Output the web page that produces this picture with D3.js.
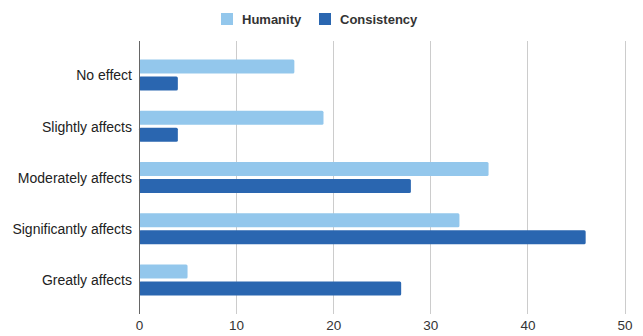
<!DOCTYPE html>
<html>
<head>
<meta charset="utf-8">
<script src="https://cdn.jsdelivr.net/npm/d3@7"></script>
<style>
  body { margin: 0; background: #fff; }
  svg { display: block; font-family: "Liberation Sans", Arial, sans-serif; }
</style>
</head>
<body>
<svg id="chart" width="643" height="336"></svg>
<script>
const categories = ['No effect', 'Slightly affects', 'Moderately affects', 'Significantly affects', 'Greatly affects'];
const seriesNames = ['Humanity', 'Consistency'];
const humanity = [16, 19, 36, 33, 5];
const consistency = [4, 4, 28, 46, 27];
const xTicks = [0, 10, 20, 30, 40, 50];
const colors = ['#93c7ec', '#2a66b0'];

const svg = d3.select('#chart');
const plotLeft = 139, plotRight = 624.5, plotTop = 41, plotBottom = 314;

const x = d3.scaleLinear().domain([0, 50]).range([plotLeft, plotRight]);
const y = d3.scaleBand().domain(categories).range([plotTop, plotBottom])
  .paddingInner(0.395).paddingOuter(0.361);
const ySub = d3.scaleBand().domain(seriesNames).range([0, y.bandwidth()])
  .paddingInner(0.176);

// gridlines
svg.append('g')
  .selectAll('line')
  .data(xTicks.filter(d => d > 0))
  .join('line')
  .attr('x1', d => Math.round(x(d)) + 0.5)
  .attr('x2', d => Math.round(x(d)) + 0.5)
  .attr('y1', plotTop)
  .attr('y2', plotBottom)
  .attr('stroke', '#cccccc')
  .attr('stroke-width', 1);

// bars
const rows = categories.map((c, i) => ({ cat: c, values: [humanity[i], consistency[i]] }));
const groups = svg.append('g')
  .selectAll('g')
  .data(rows)
  .join('g')
  .attr('transform', d => `translate(0,${y(d.cat)})`);

groups.selectAll('rect')
  .data(d => d.values.map((v, j) => ({ name: seriesNames[j], v, j })))
  .join('rect')
  .attr('x', x(0))
  .attr('y', d => ySub(d.name))
  .attr('width', d => x(d.v) - x(0))
  .attr('height', ySub.bandwidth())
  .attr('rx', 1.5)
  .attr('fill', d => colors[d.j]);

// y axis line
svg.append('line')
  .attr('x1', plotLeft + 0.5).attr('x2', plotLeft + 0.5)
  .attr('y1', plotTop).attr('y2', plotBottom)
  .attr('stroke', '#666666')
  .attr('stroke-width', 1);

// x tick labels
const axisX = d3.axisBottom(x).tickValues(xTicks).tickSize(0).tickPadding(0);
const gx = svg.append('g')
  .attr('transform', `translate(0,${plotBottom + 6})`)
  .call(axisX);
gx.select('.domain').remove();
gx.selectAll('text')
  .attr('font-size', 13.5)
  .attr('font-family', '"Liberation Sans", Arial, sans-serif')
  .attr('fill', '#333333');

// y category labels
const axisY = d3.axisLeft(y).tickSize(0).tickPadding(7);
const gy = svg.append('g')
  .attr('transform', `translate(${plotLeft},1)`)
  .call(axisY);
gy.select('.domain').remove();
gy.selectAll('text')
  .attr('font-size', 14)
  .attr('font-family', '"Liberation Sans", Arial, sans-serif')
  .attr('fill', '#222222');

// legend
const legendX = [221, 319];
const legend = svg.append('g')
  .selectAll('g')
  .data(seriesNames)
  .join('g')
  .attr('transform', (d, i) => `translate(${legendX[i]},13)`);
legend.append('rect')
  .attr('width', 12).attr('height', 12)
  .attr('fill', (d, i) => colors[i]);
legend.append('text')
  .attr('x', 21).attr('y', 6)
  .attr('dy', '0.35em')
  .attr('font-size', 13)
  .attr('font-weight', 'bold')
  .attr('fill', '#333333')
  .text(d => d);
</script>
</body>
</html>
